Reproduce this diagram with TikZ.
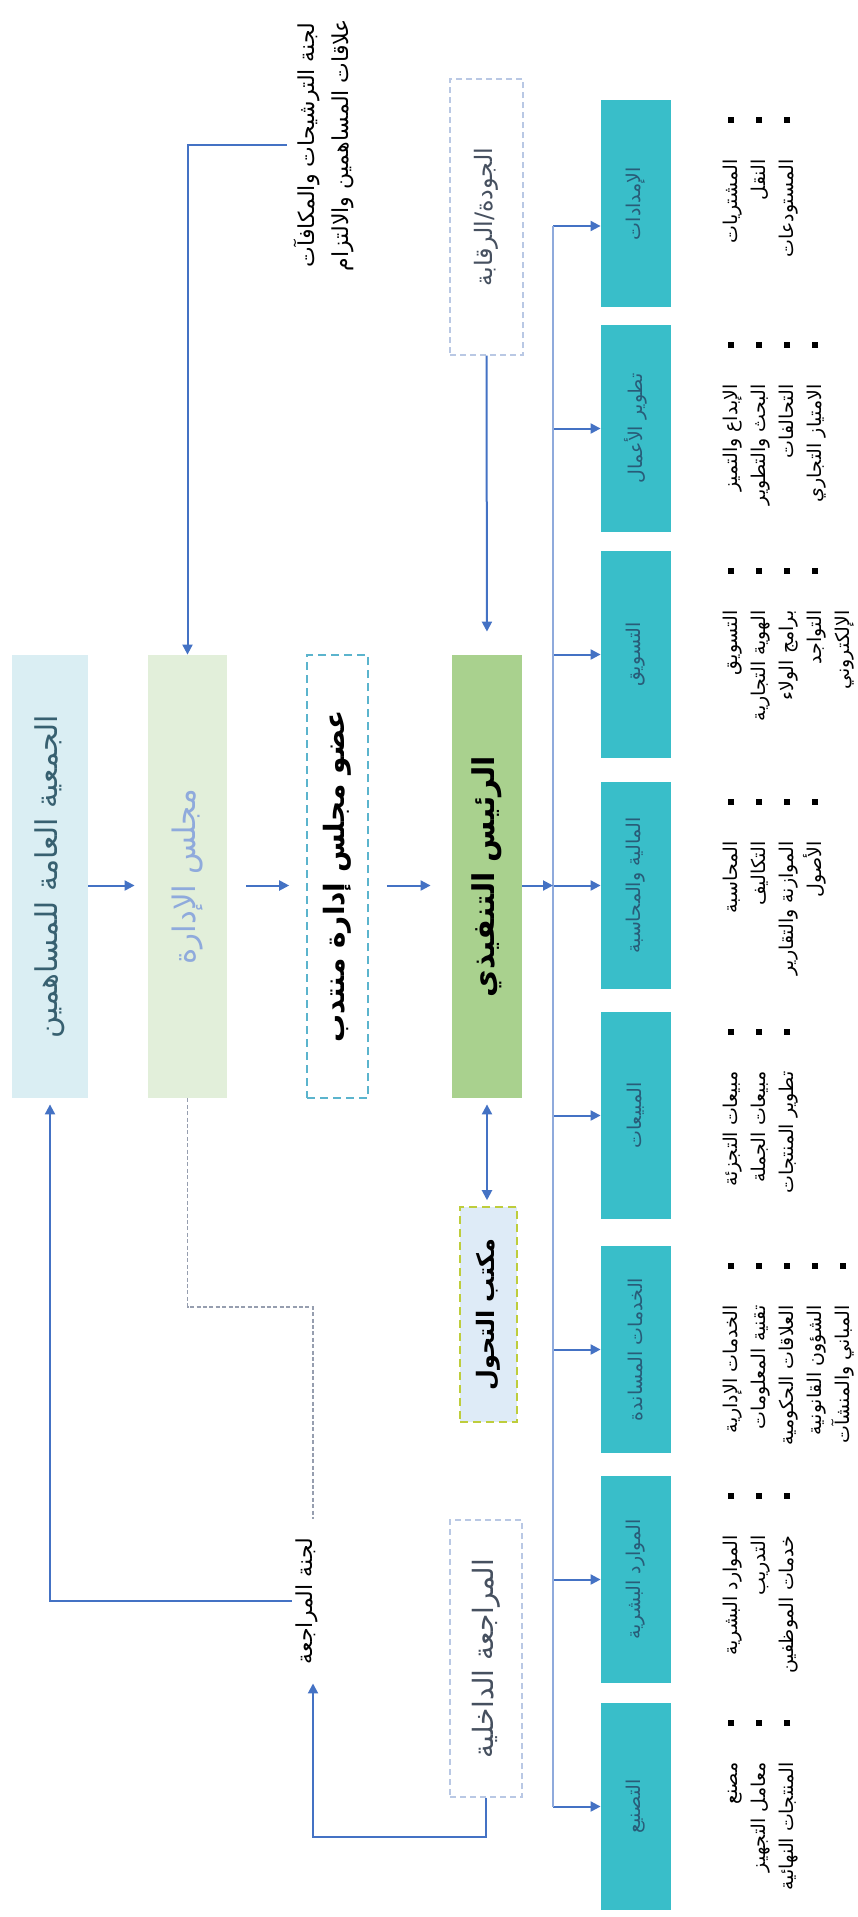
\documentclass[tikz,border=0pt]{standalone}
\usepackage{fontspec}
\usepackage{graphicx}
\usepackage{tikz}
\usetikzlibrary{arrows.meta}
\usetikzlibrary{positioning}
\newfontfamily\arabicfont[Script=Arabic]{DejaVu Sans}
\TeXXeTstate=1
\definecolor{linkblue}{RGB}{68,114,196}
\definecolor{buslight}{RGB}{143,170,220}
\definecolor{deptteal}{RGB}{57,190,201}
\definecolor{depttext}{RGB}{40,92,120}
\definecolor{gafill}{RGB}{218,238,243}
\definecolor{gatext}{RGB}{55,96,112}
\definecolor{boardfill}{RGB}{226,239,218}
\definecolor{boardtext}{RGB}{143,170,220}
\definecolor{delline}{RGB}{91,180,205}
\definecolor{ceofill}{RGB}{169,209,142}
\definecolor{transfill}{RGB}{222,235,247}
\definecolor{transline}{RGB}{190,205,60}
\definecolor{sideline}{RGB}{185,200,228}
\definecolor{sidetext}{RGB}{70,80,95}
\definecolor{dotgray}{RGB}{150,158,175}
\newcommand{\artxt}[1]{{\arabicfont\beginR #1\endR}}
\newcommand{\vtxt}[1]{\rotatebox{90}{#1}}
\newcommand{\bul}{\rule[0.35ex]{3pt}{3pt}}
\newcommand{\itemrow}[1]{\artxt{#1} & \bul \\}
\tikzstyle{link} = [draw, line width=1pt, linkblue, -{Triangle[length=5pt,width=5pt]}]
\tikzstyle{twolink} = [draw, line width=1pt, linkblue, {Triangle[length=5pt,width=5pt]}-{Triangle[length=5pt,width=5pt]}]
\tikzstyle{buslink} = [draw, line width=0.8pt, buslight]
\tikzstyle{dotlink} = [draw, line width=0.6pt, dotgray, dash pattern=on 2pt off 1.2pt]
\tikzstyle{bigbox} = [rectangle, minimum height=221.5pt, inner sep=0pt]
\tikzstyle{deptbox} = [rectangle, fill=deptteal, text=depttext, minimum width=35pt, minimum height=103.5pt, inner sep=0pt, font=\fontsize{9.5}{11}\selectfont]
\tikzstyle{sidebox} = [rectangle, draw=sideline, line width=0.6pt, dash pattern=on 3pt off 2pt, fill=white, inner sep=0pt, text=sidetext, font=\fontsize{12}{14}\selectfont]
\tikzstyle{itemlist} = [anchor=north west, inner sep=0pt, font=\fontsize{9.5}{14}\selectfont]
\tikzstyle{note} = [inner sep=2pt, font=\fontsize{11}{17}\selectfont]
\begin{document}
\begin{tikzpicture}[x=0.5pt, y=-0.5pt]
    \useasboundingbox (0,0) rectangle (857,1917);
    % governance row
    \node[bigbox, fill=gafill, text=gatext, minimum width=38pt, font=\fontsize{15}{18}\selectfont] (ga) at (50,876.5) {\vtxt{\artxt{الجمعية العامة للمساهمين}}};
    \node[bigbox, fill=boardfill, text=boardtext, minimum width=39.5pt, font=\fontsize{15.5}{18}\selectfont] (board) at (187.5,876.5) {\vtxt{\artxt{مجلس الإدارة}}};
    \node[bigbox, draw=delline, line width=0.8pt, dash pattern=on 4pt off 2.5pt, fill=white, minimum width=30.5pt, font=\bfseries\fontsize{14}{18}\selectfont] (del) at (337.5,876.5) {\vtxt{\artxt{عضو مجلس إدارة منتدب}}};
    \node[bigbox, fill=ceofill, minimum width=35pt, font=\bfseries\fontsize{15}{18}\selectfont] (ceo) at (487,876.5) {\vtxt{\artxt{الرئيس التنفيذي}}};
    \node[rectangle, draw=transline, line width=0.8pt, dash pattern=on 4pt off 2.5pt, fill=transfill, minimum width=28.5pt, minimum height=107.5pt, inner sep=0pt, font=\bfseries\fontsize{12}{14}\selectfont] (trans) at (488.5,1314.5) {\vtxt{\artxt{مكتب التحول}}};
    \node[sidebox, minimum width=36.5pt, minimum height=138pt] (quality) at (486.5,217) {\vtxt{\artxt{الجودة/الرقابة}}};
    \node[sidebox, minimum width=36pt, minimum height=138.5pt, font=\fontsize{14}{16}\selectfont] (intaudit) at (486,1658.5) {\vtxt{\artxt{المراجعة الداخلية}}};
    % committees
    \node[note] (nomcom) at (325,145) {\vtxt{\begin{tabular}{@{}c@{}}\artxt{لجنة الترشيحات والمكافآت}\\\artxt{علاقات المساهمين والالتزام}\end{tabular}}};
    \node[note] (audcom) at (307,1601) {\vtxt{\artxt{لجنة المراجعة}}};
    \coordinate (dotbend) at (313,1307);
    \coordinate (auditbend) at (313,1837);
    \coordinate (bus) at (553,0);
    % departments
    \foreach \ypos/\name/\title/\dy in {203.5/supply/الإمدادات/-11.25, 428.5/busdev/تطوير الأعمال/0, 654.5/market/التسويق/0, 885.5/finance/المالية والمحاسبة/0, 1115.5/sales/المبيعات/0, 1349.5/support/الخدمات المساندة/0, 1579.5/hr/الموارد البشرية/0, 1806.5/manuf/التصنيع/0}{
        \node[deptbox] (\name) at (636,\ypos) {\vtxt{\artxt{\title}}};
        \path ([yshift=\dy pt]\name.west) coordinate (\name-in);
        \draw[link] (bus |- \name-in) -- (\name-in);
    }
    \draw[buslink] (bus |- supply-in) -- (bus |- manuf-in);
    % task lists
    \node[itemlist] (supplylist) at (717,117) {\vtxt{\begin{tabular}{@{}r@{\hspace{18pt}}c@{}}\itemrow{المشتريات}\itemrow{النقل}\itemrow{المستودعات}\end{tabular}}};
    \node[itemlist] (busdevlist) at (717,342) {\vtxt{\begin{tabular}{@{}r@{\hspace{18pt}}c@{}}\itemrow{الإبداع والتميز}\itemrow{البحث والتطوير}\itemrow{التحالفات}\itemrow{الامتياز التجاري}\end{tabular}}};
    \node[itemlist] (marketlist) at (717,568) {\vtxt{\begin{tabular}{@{}r@{\hspace{18pt}}c@{}}\itemrow{التسويق}\itemrow{الهوية التجارية}\itemrow{برامج الولاء}\itemrow{التواجد}\artxt{الإلكتروني} & \\\end{tabular}}};
    \node[itemlist] (financelist) at (717,799) {\vtxt{\begin{tabular}{@{}r@{\hspace{18pt}}c@{}}\itemrow{المحاسبة}\itemrow{التكاليف}\itemrow{الموازنة والتقارير}\itemrow{الأصول}\end{tabular}}};
    \node[itemlist] (saleslist) at (717,1029) {\vtxt{\begin{tabular}{@{}r@{\hspace{18pt}}c@{}}\itemrow{مبيعات التجزئة}\itemrow{مبيعات الجملة}\itemrow{تطوير المنتجات}\end{tabular}}};
    \node[itemlist] (supportlist) at (717,1263) {\vtxt{\begin{tabular}{@{}r@{\hspace{18pt}}c@{}}\itemrow{الخدمات الإدارية}\itemrow{تقنية المعلومات}\itemrow{العلاقات الحكومية}\itemrow{الشؤون القانونية}\itemrow{المباني والمنشآت}\end{tabular}}};
    \node[itemlist] (hrlist) at (717,1493) {\vtxt{\begin{tabular}{@{}r@{\hspace{18pt}}c@{}}\itemrow{الموارد البشرية}\itemrow{التدريب}\itemrow{خدمات الموظفين}\end{tabular}}};
    \node[itemlist] (manuflist) at (717,1720) {\vtxt{\begin{tabular}{@{}r@{\hspace{18pt}}c@{}}\itemrow{مصنع}\itemrow{معامل التجهيز}\itemrow{المنتجات النهائية}\end{tabular}}};
    % connectors
    \draw[link] (nomcom.west) -| (board.north);
    \draw[link, shorten >=6.5pt] (ga.east |- finance.west) -- (board.west |- finance.west);
    \draw[link, shorten <=9.5pt, shorten >=8.5pt] (board.east |- finance.west) -- (del.west |- finance.west);
    \draw[link, shorten <=9pt, shorten >=10.5pt] (del.east |- finance.west) -- (ceo.west |- finance.west);
    \draw[link] (ceo.east |- finance.west) -- (bus |- finance.west);
    \draw[link, shorten >=11.5pt] (quality.south) -- (ceo.north);
    \draw[twolink, shorten <=3pt, shorten >=3pt] (ceo.south) -- (ceo.south |- trans.north);
    \draw[dotlink, shorten >=7.5pt] (board.south) |- (dotbend) -- (dotbend |- audcom.north);
    \draw[link, shorten >=3pt] (audcom.west) -| (ga.south);
    \draw[link, shorten >=7.5pt] (intaudit.south) |- (auditbend) -- (auditbend |- audcom.south);
\end{tikzpicture}
\end{document}
